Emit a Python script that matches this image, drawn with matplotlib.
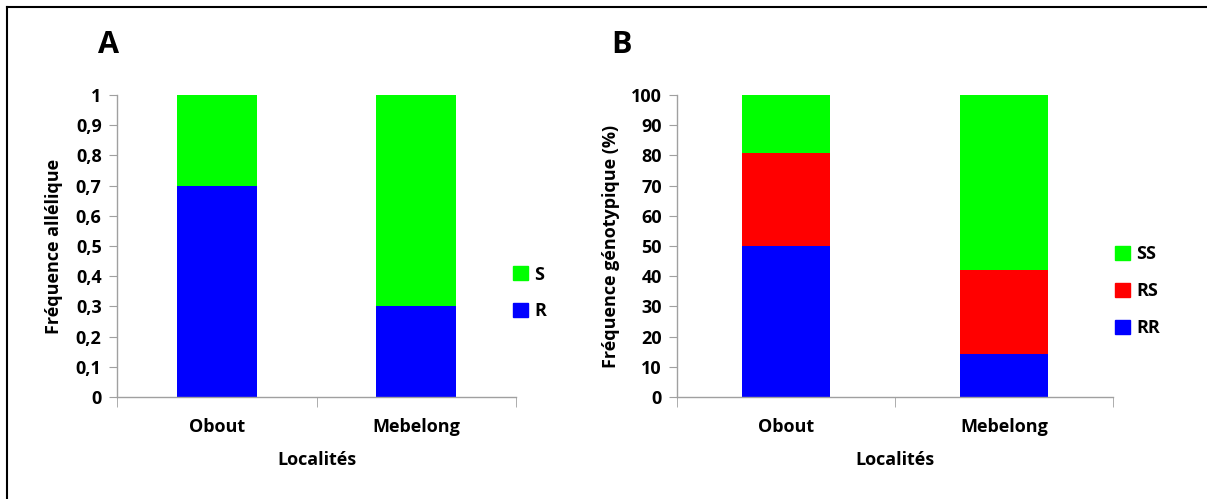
import matplotlib
matplotlib.use("Agg")
import matplotlib.pyplot as plt
from matplotlib.patches import Patch
from matplotlib.lines import Line2D

localites = ["Obout", "Mebelong"]
allele_R = [0.70, 0.30]
allele_S = [0.30, 0.70]
geno_RR = [50.0, 14.2]
geno_RS = [30.8, 27.9]
geno_SS = [19.2, 57.9]
yticks_A = [0, 0.1, 0.2, 0.3, 0.4, 0.5, 0.6, 0.7, 0.8, 0.9, 1.0]
yticklabels_A = ["0", "0,1", "0,2", "0,3", "0,4", "0,5", "0,6", "0,7", "0,8", "0,9", "1"]
yticks_B = list(range(0, 101, 10))

GREEN = "#00FF00"
BLUE = "#0000FF"
RED = "#FF0000"
GRAY = "#A0A0A0"

plt.rcParams['font.family'] = ['Open Sans', 'DejaVu Sans']
plt.rcParams['font.weight'] = 'bold'
FS = 13

W, H = 1207, 499
fig = plt.figure(figsize=(W / 100, H / 100), dpi=100)

def fx(px):
    return px / W

def fy(py):
    return 1 - py / H

axA = fig.add_axes([fx(117), fy(397), fx(516) - fx(117), fy(95) - fy(397)])
axB = fig.add_axes([fx(677), fy(397), fx(1113) - fx(677), fy(95) - fy(397)])

x = list(range(len(localites)))
bw = 0.4

axA.bar(x, allele_R, bw, color=BLUE, label="R")
axA.bar(x, allele_S, bw, bottom=allele_R, color=GREEN, label="S")

bot2 = [a + b for a, b in zip(geno_RR, geno_RS)]
axB.bar(x, geno_RR, bw, color=BLUE, label="RR")
axB.bar(x, geno_RS, bw, bottom=geno_RR, color=RED, label="RS")
axB.bar(x, geno_SS, bw, bottom=bot2, color=GREEN, label="SS")

for ax in (axA, axB):
    ax.set_xlim(-0.5, len(localites) - 0.5)
    ax.set_xticks(x)
    ax.set_xticklabels(localites, fontsize=FS, fontweight='bold')
    ax.set_xticks([-0.5, 0.5, 1.5], minor=True)
    ax.tick_params(axis='x', which='major', length=0, pad=15)
    ax.tick_params(axis='x', which='minor', length=7, color=GRAY, direction='out')
    ax.tick_params(axis='y', length=6, color=GRAY, direction='out', labelsize=FS, pad=5)
    for s in ("top", "right"):
        ax.spines[s].set_visible(False)
    for s in ("left", "bottom"):
        ax.spines[s].set_color(GRAY)
        ax.spines[s].set_linewidth(1.0)
    ax.set_xlabel("Localités", fontsize=FS, fontweight='bold', labelpad=11)

axA.set_ylim(0, 1)
axA.set_yticks(yticks_A)
axA.set_yticklabels(yticklabels_A, fontweight='bold', fontsize=FS)
axA.set_ylabel("Fréquence allélique", fontsize=FS, fontweight='bold', labelpad=9)

axB.set_ylim(0, 100)
axB.set_yticks(yticks_B)
axB.set_yticklabels([str(v) for v in yticks_B], fontweight='bold', fontsize=FS)
axB.set_ylabel("Fréquence génotypique (%)", fontsize=FS, fontweight='bold', labelpad=8)

# legends
hA = [Patch(color=GREEN, label="S"), Patch(color=BLUE, label="R")]
fig.legend(handles=hA, loc='center left', bbox_to_anchor=(fx(497), fy(293)),
           frameon=False, handlelength=0.8, handleheight=0.8,
           handletextpad=0.35, labelspacing=1.05, prop={'weight': 'bold', 'size': FS})
hB = [Patch(color=GREEN, label="SS"), Patch(color=RED, label="RS"), Patch(color=BLUE, label="RR")]
fig.legend(handles=hB, loc='center left', bbox_to_anchor=(fx(1099), fy(291)),
           frameon=False, handlelength=0.8, handleheight=0.8,
           handletextpad=0.35, labelspacing=1.05, prop={'weight': 'bold', 'size': FS})

fig.text(fx(108), fy(45), "A", fontsize=22, fontweight='bold', ha='center', va='center')
fig.text(fx(622), fy(45), "B", fontsize=22, fontweight='bold', ha='center', va='center')

# figure frame (top and left)
fig.add_artist(Line2D([fx(7), fx(1207)], [fy(7), fy(7)], color='black', lw=1.5, transform=fig.transFigure))
fig.add_artist(Line2D([fx(7), fx(7)], [fy(7), fy(499)], color='black', lw=1.5, transform=fig.transFigure))

fig.savefig("out.png", dpi=100)
